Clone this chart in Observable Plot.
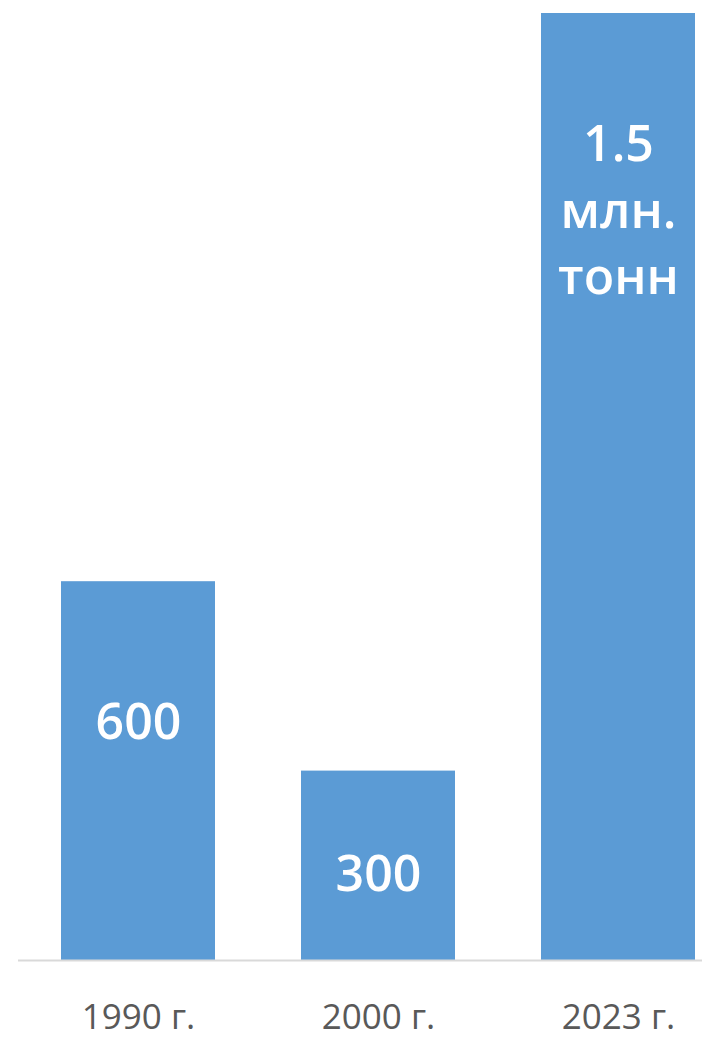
<!DOCTYPE html>
<html>
<head>
<meta charset="utf-8">
<script src="https://cdn.jsdelivr.net/npm/d3@7"></script>
<script src="https://cdn.jsdelivr.net/npm/@observablehq/plot@0.6"></script>
<style>
  html, body { margin: 0; padding: 0; background: #fff; }
  #chart { width: 702px; height: 1039px; overflow: hidden; }
</style>
</head>
<body>
<div id="chart"></div>
<script>
const years = ["1990 г.", "2000 г.", "2023 г."];
const values = [600, 300, 1500];
const labels = ["600", "300", "1.5\nмлн.\nтонн"];

const data = years.map((year, i) => ({year, value: values[i], label: labels[i]}));

// vertical label offsets from the bar top (px)
const labelDy = [136, 99, 193];

const font = "'Open Sans', 'Noto Sans', sans-serif";

const marks = [
  Plot.barY(data, {x: "year", y: "value", fill: "#5B9BD5"}),
  Plot.ruleY([0], {stroke: "#D9D9D9", strokeWidth: 2}),
  Plot.axisX({tickSize: 0, tickPadding: 44, fontSize: 35, fill: "#595959", fontFamily: font}),
  ...data.map((d, i) => Plot.text([d], {
    x: "year", y: "value", text: "label",
    dy: labelDy[i], fill: "white", fontSize: 50, fontWeight: 600,
    fontFamily: font, lineHeight: 1.33, lineAnchor: "middle"
  }))
];

const chart = Plot.plot({
  width: 702,
  height: 1039,
  marginTop: 13,
  marginBottom: 79,
  marginLeft: 18,
  marginRight: 0,
  style: {fontFamily: font, background: "#fff", overflow: "visible"},
  x: {domain: years, range: [18, 738], paddingInner: 0.358, paddingOuter: 0.179, label: null},
  y: {domain: [0, 1500], axis: null},
  marks
});
document.getElementById("chart").appendChild(chart);
</script>
</body>
</html>
